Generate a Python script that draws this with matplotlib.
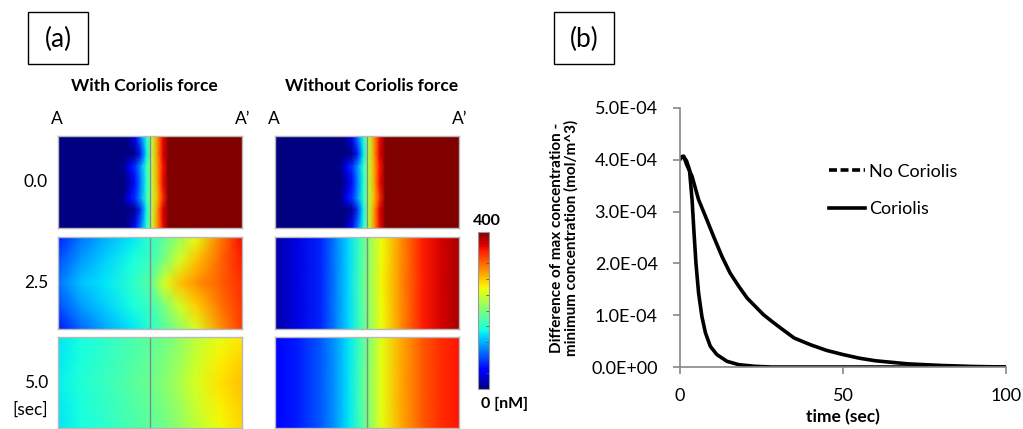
import numpy as np
import matplotlib
matplotlib.use('Agg')
import matplotlib.pyplot as plt
from matplotlib.patches import Rectangle
from matplotlib.lines import Line2D
from matplotlib.ticker import FuncFormatter

plt.rcParams['font.family'] = ['Lato', 'DejaVu Sans']

# ---- panel (a): concentration fields [nM], rows top->bottom, cols A->A'
# t = 0.0 s (sharp front, same for both cases)
x_t0 = [0, .33, .36, .39, .42, .45, .48, .51, .54, .57, .60, 1]
y_t0 = [0, .2, .33, .5, .68, .8, 1]
c_t0 = [[0, 0, 0, 15, 50, 100, 150, 230, 300, 360, 400, 400],
        [0, 0, 0, 0, 5, 60, 140, 230, 300, 365, 400, 400],
        [0, 0, 10, 45, 70, 110, 160, 230, 295, 355, 400, 400],
        [0, 0, 0, 20, 55, 100, 150, 230, 295, 360, 400, 400],
        [0, 0, 10, 45, 70, 110, 160, 225, 285, 345, 400, 400],
        [0, 0, 0, 0, 10, 70, 145, 230, 300, 365, 400, 400],
        [0, 0, 0, 20, 55, 100, 150, 230, 300, 360, 400, 400]]

# with Coriolis force
x_cor = [0, .12, .25, .4, .5, .58, .66, .75, .88, 1]
y_cor = [0, .25, .5, .75, 1]
c_cor_25 = [[62, 95, 118, 140, 160, 185, 215, 250, 310, 358],
            [80, 110, 130, 150, 168, 200, 242, 280, 320, 352],
            [95, 125, 140, 160, 182, 245, 280, 300, 322, 345],
            [80, 110, 130, 150, 168, 200, 240, 276, 314, 342],
            [58, 90, 115, 140, 160, 182, 210, 245, 300, 340]]
c_cor_50 = [[140, 150, 160, 175, 185, 195, 210, 230, 250, 265],
            [142, 152, 163, 178, 188, 200, 215, 238, 262, 275],
            [145, 155, 167, 182, 192, 205, 222, 245, 268, 282],
            [142, 152, 163, 178, 188, 200, 215, 238, 262, 278],
            [140, 150, 160, 175, 185, 195, 210, 230, 255, 272]]

# without Coriolis force
x_noc = [0, .12, .25, .33, .4, .46, .52, .58, .68, .8, .9, 1]
y_noc = [0, .5, 1]
c_noc_25 = [[15, 35, 65, 100, 135, 170, 215, 255, 300, 350, 370, 385],
            [15, 35, 65, 100, 135, 172, 218, 258, 302, 350, 370, 385],
            [15, 35, 65, 100, 135, 170, 215, 255, 300, 350, 370, 385]]
c_noc_50 = [[45, 60, 85, 110, 140, 170, 210, 250, 290, 325, 345, 355],
            [45, 60, 85, 110, 140, 172, 213, 253, 292, 325, 345, 355],
            [45, 60, 85, 110, 140, 170, 210, 250, 290, 325, 345, 355]]

row_labels = ['0.0', '2.5', '5.0']
col_titles = ['With Coriolis force', 'Without Coriolis force']

# ---- panel (b): max - min concentration, in units of 1e-4 mol/m^3
t_cor = [0, 0.5, 1.1, 2.0, 2.9, 3.7, 4.3, 4.9, 5.7, 6.7, 7.8, 9.3, 11.3, 14.4, 18, 23, 28, 35, 100]
d_cor = [4.01, 4.05, 4.06, 3.98, 3.81, 3.23, 2.59, 2.0, 1.43, 0.98, 0.66, 0.40, 0.24, 0.11, 0.045, 0.013,
         0.0, 0.0, 0.0]
t_noc = [0, 0.5, 1.1, 2.1, 3.7, 5.7, 7.8, 10.3, 12.9, 15.4, 18, 20.6, 23.1, 25.6, 28.2, 30.7, 35, 40, 45,
         50, 55, 60, 70, 80, 90, 100]
d_noc = [4.01, 4.06, 4.07, 3.9, 3.68, 3.23, 2.91, 2.52, 2.13, 1.81, 1.56, 1.33, 1.17, 1.01, 0.88, 0.76, 0.56,
         0.43, 0.32, 0.24, 0.17, 0.12, 0.06, 0.03, 0.01, 0.0]
d_cor = np.array(d_cor) * 1e-4
d_noc = np.array(d_noc) * 1e-4

W, H = 1023, 429
fig = plt.figure(figsize=(W / 100, H / 100), dpi=100)


def fx(x):
    return x / W


def fy(y):
    return 1 - y / H


def px_axes(x0, y0, x1, y1):
    return fig.add_axes([fx(x0), fy(y1), fx(x1 - x0), (y1 - y0) / H])


fields = [[(x_t0, y_t0, c_t0), (x_t0, y_t0, c_t0)],
          [(x_cor, y_cor, c_cor_25), (x_noc, y_noc, c_noc_25)],
          [(x_cor, y_cor, c_cor_50), (x_noc, y_noc, c_noc_50)]]
col_x = [(58, 242), (275, 459)]
row_y = [(136, 228), (237, 329), (337, 428)]

mesh = None
for r in range(3):
    for c in range(2):
        ax = px_axes(col_x[c][0], row_y[r][0], col_x[c][1], row_y[r][1])
        xs, ys, cc = fields[r][c]
        mesh = ax.pcolormesh(xs, ys, np.array(cc), shading='gouraud', cmap='jet', vmin=0, vmax=400)
        ax.set_xlim(0, 1)
        ax.set_ylim(1, 0)
        ax.axvline(0.5, color='#7f8f8f', lw=1)
        ax.set_xticks([])
        ax.set_yticks([])
        for s in ax.spines.values():
            s.set_color('#b8b8b8')
            s.set_linewidth(1)

# colorbar
cax = px_axes(478, 232, 489, 389)
cb = fig.colorbar(mesh, cax=cax, ticks=np.arange(0, 401, 40))
cb.outline.set_edgecolor('#999999')
cb.outline.set_linewidth(0.8)
cax.tick_params(direction='in', length=2, width=0.6, color='#555555', labelright=False)
fig.text(fx(487), fy(221), '400', ha='center', va='center', fontsize=11.5, fontweight='bold')
fig.text(fx(481), fy(404), '0 [nM]', ha='left', va='center', fontsize=11.5, fontweight='bold')

# labels of panel (a)
fig.add_artist(Rectangle((fx(28), fy(64)), fx(60), 52 / H, transform=fig.transFigure,
                         fill=False, edgecolor='black', lw=1))
fig.text(fx(58), fy(39), '(a)', ha='center', va='center', fontsize=19)
fig.add_artist(Rectangle((fx(554), fy(64)), fx(60), 52 / H, transform=fig.transFigure,
                         fill=False, edgecolor='black', lw=1))
fig.text(fx(584), fy(39), '(b)', ha='center', va='center', fontsize=19)

fig.text(fx(144), fy(86), col_titles[0], ha='center', va='center', fontsize=12.5, fontweight='bold')
fig.text(fx(372), fy(86), col_titles[1], ha='center', va='center', fontsize=12.5, fontweight='bold')
for x0, x1 in col_x:
    fig.text(fx(x0 - 1), fy(119), 'A', ha='center', va='center', fontsize=12.5)
    fig.text(fx(x1 + 1), fy(119), 'A\u2019', ha='center', va='center', fontsize=12.5)
for lab, (y0, y1) in zip(row_labels, row_y):
    fig.text(fx(48), fy((y0 + y1) / 2), lab, ha='right', va='center', fontsize=12.5)
fig.text(fx(48), fy(410), '[sec]', ha='right', va='center', fontsize=12.5)

# ---- panel (b)
axb = px_axes(680, 108, 1006, 367)
axb.plot(t_noc, d_noc, color='black', lw=2.6, solid_capstyle='round', solid_joinstyle='round')
axb.plot(t_cor, d_cor, color='black', lw=2.6, solid_capstyle='round', solid_joinstyle='round')
axb.set_xlim(0, 100)
axb.set_ylim(0, 5e-4)
axb.set_xticks([0, 50, 100])
axb.set_yticks(np.arange(0, 5.01e-4, 1e-4))
axb.yaxis.set_major_formatter(FuncFormatter(lambda v, p: f'{v:.1E}'))
for s in ['top', 'right']:
    axb.spines[s].set_visible(False)
for s in ['left', 'bottom']:
    axb.spines[s].set_color('#888888')
    axb.spines[s].set_linewidth(1.2)
axb.tick_params(colors='#888888', labelcolor='black', labelsize=13, length=5, width=1.2)
axb.tick_params(axis='y', pad=11)
axb.tick_params(axis='x', pad=10)
axb.set_xlabel('time (sec)', fontsize=12.5, fontweight='bold', labelpad=4)
axb.set_ylabel('Difference of max concentration -\nminimum concentration (mol/m^3)',
               fontsize=11, fontweight='bold', labelpad=9, linespacing=1.05)

handles = [Line2D([], [], color='black', lw=2.6, ls=(0, (2.2, 1))),
           Line2D([], [], color='black', lw=2.6)]
axb.legend(handles, ['No Coriolis', 'Coriolis'], loc='upper left', bbox_to_anchor=(0.457, 0.785),
           frameon=False, fontsize=13, handlelength=2.0, handletextpad=0.2, labelspacing=1.2,
           borderpad=0, borderaxespad=0)

fig.savefig('out.png', dpi=100)
